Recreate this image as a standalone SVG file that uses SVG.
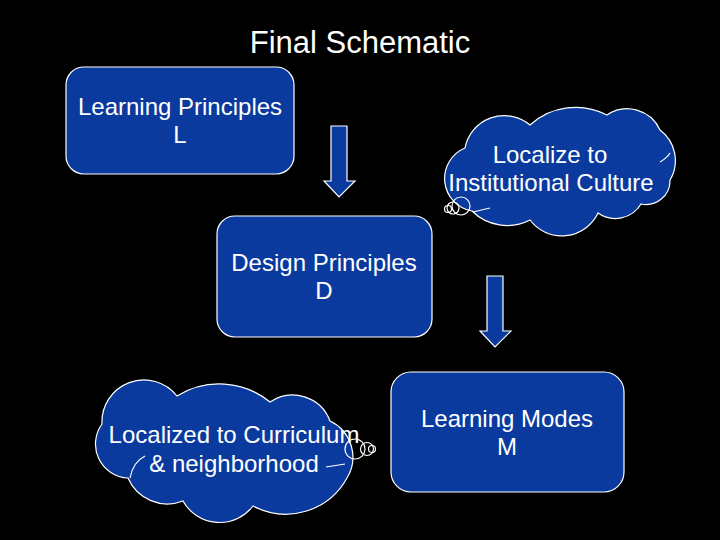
<svg xmlns="http://www.w3.org/2000/svg" width="720" height="540" viewBox="0 0 720 540">
<style>
.shape{fill:#0A3A9E;stroke:#FFFFFF;stroke-width:1.2}
.line{fill:none;stroke:#FFFFFF;stroke-width:1.2}
text{font-family:"Liberation Sans",Arial,sans-serif;fill:#FFFFFF;text-anchor:middle;font-size:24px}
</style>
<rect x="0" y="0" width="720" height="540" fill="#000000"/>
<text id="title" x="360" y="53" style="font-size:31px">Final Schematic</text>

<g id="node-L">
<rect class="shape" x="66" y="67" width="228" height="107" rx="18"/>
<text x="180" y="115">Learning Principles</text>
<text x="180" y="143">L</text>
</g>

<g id="node-D">
<rect class="shape" x="217" y="216" width="215" height="121" rx="18"/>
<text x="324" y="271">Design Principles</text>
<text x="324" y="299">D</text>
</g>

<g id="node-M">
<rect class="shape" x="391" y="372" width="233" height="120" rx="20"/>
<text x="507" y="427">Learning Modes</text>
<text x="507" y="455">M</text>
</g>

<g id="node-culture">
<path class="shape" d="M465,148 A40,40 0 0 1 530,125 A68,68 0 0 1 607,115 A36,36 0 0 1 660,130 A38,38 0 0 1 670,180 A24,24 0 0 1 641,204 A30,30 0 0 1 598,213 A40,40 0 0 1 530,220 A50,50 0 0 1 472,211 A33,33 0 0 1 465,148 Z"/>
<path class="line" d="M473,212 L490,208"/>
<path class="line" d="M660,162 Q667,158 670,153"/>
<circle class="line" cx="461" cy="206" r="9"/>
<circle class="line" cx="453" cy="208" r="6"/>
<circle class="line" cx="448" cy="209" r="3.5"/>
<text x="550" y="163">Localize to</text>
<text x="551" y="191">Institutional Culture</text>
</g>

<g id="node-curriculum">
<path class="shape" d="M102,424 A42,42 0 0 1 177,396 A80,80 0 0 1 270,402 A40,40 0 0 1 330,421 A40,40 0 0 1 347,478 A70,70 0 0 1 253,506 A42,42 0 0 1 183,501 A43,43 0 0 1 128,478 A34,34 0 0 1 102,424 Z"/>
<path class="line" d="M326,467 L345,464"/>
<path class="line" d="M130,478 Q133,462 145,456"/>
<circle class="line" cx="355" cy="449" r="10"/>
<circle class="line" cx="367" cy="449" r="6.5"/>
<circle class="line" cx="372" cy="449" r="3.5"/>
<text x="234" y="443">Localized to Curriculum</text>
<text x="234" y="472">&amp; neighborhood</text>
</g>

<g id="connectors">
<polygon class="shape" points="331,126 347,126 347,181 355,181 339,197 324,181 331,181"/>
<polygon class="shape" points="487,276 503,276 503,331 511,331 495,347 480,331 487,331"/>
</g>
</svg>
